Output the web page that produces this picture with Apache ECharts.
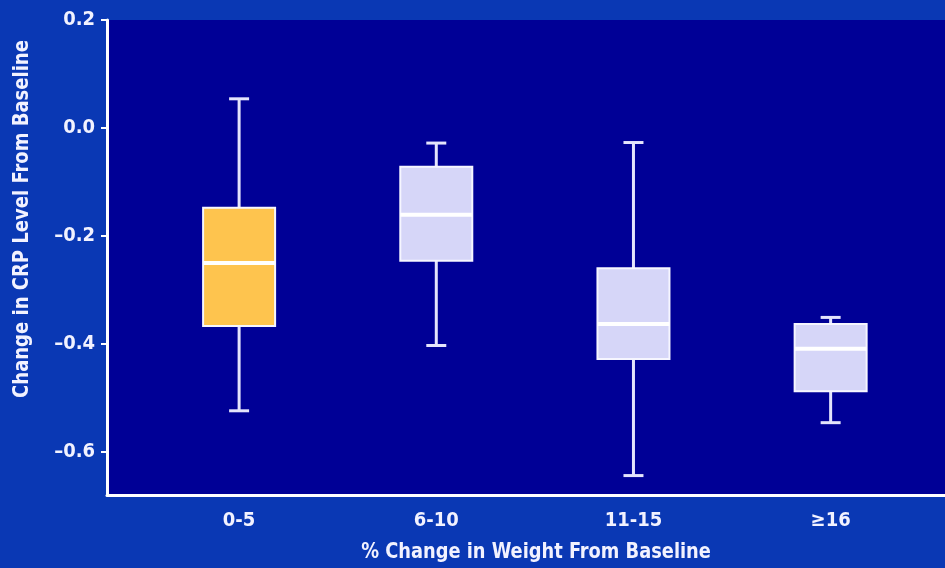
<!DOCTYPE html>
<html>
<head>
<meta charset="utf-8">
<script src="https://cdn.jsdelivr.net/npm/echarts@6/dist/echarts.min.js"></script>
<style>
html,body{margin:0;padding:0;background:#0a38b4;}
#c{width:945px;height:568px;}
</style>
</head>
<body>
<div id="c"></div>
<script>
// ---- data ----
const categories = ['0-5', '6-10', '11-15', '\u226516'];
const whiskerMin = [-0.524, -0.403, -0.644, -0.546];
const q1 = [-0.367, -0.246, -0.428, -0.488];
const median = [-0.250, -0.161, -0.363, -0.409];
const q3 = [-0.148, -0.072, -0.260, -0.363];
const whiskerMax = [0.054, -0.028, -0.027, -0.351];
const yTicks = [0.2, 0.0, -0.2, -0.4, -0.6];
const xTitle = '% Change in Weight From Baseline';
const yTitle = 'Change in CRP Level From Baseline';

// ---- styles ----
const boxColors = ['#fec44e', '#d6d6f8', '#d6d6f8', '#d6d6f8'];
const FONT = '"Liberation Sans Narrow", "DejaVu Sans Condensed", sans-serif';
const TEXT = '#f2f2ff';

const seriesData = categories.map((c, i) => [i + 1, whiskerMin[i], q1[i], median[i], q3[i], whiskerMax[i]]);

function renderItem(params, api) {
  const x = api.value(0);
  const pMin = api.coord([x, api.value(1)]);
  const pQ1 = api.coord([x, api.value(2)]);
  const pMed = api.coord([x, api.value(3)]);
  const pQ3 = api.coord([x, api.value(4)]);
  const pMax = api.coord([x, api.value(5)]);
  const hw = 36, cw = 10;
  const wc = '#e4e4fc';
  const cx = pMed[0];
  return {
    type: 'group',
    children: [
      {type: 'line', shape: {x1: cx, y1: pMax[1], x2: cx, y2: pMin[1]}, style: {stroke: wc, lineWidth: 3}},
      {type: 'line', shape: {x1: cx - cw, y1: pMax[1], x2: cx + cw, y2: pMax[1]}, style: {stroke: wc, lineWidth: 3}},
      {type: 'line', shape: {x1: cx - cw, y1: pMin[1], x2: cx + cw, y2: pMin[1]}, style: {stroke: wc, lineWidth: 3}},
      {type: 'rect', shape: {x: cx - hw, y: pQ3[1], width: 2 * hw, height: pQ1[1] - pQ3[1]},
        style: {fill: boxColors[params.dataIndex], stroke: '#f6f6ff', lineWidth: 2}},
      {type: 'line', shape: {x1: cx - hw, y1: pMed[1], x2: cx + hw, y2: pMed[1]}, style: {stroke: '#ffffff', lineWidth: 4}}
    ]
  };
}

const chart = echarts.init(document.getElementById('c'), null, {renderer: 'canvas'});
chart.setOption({
  backgroundColor: '#0a38b4',
  animation: false,
  grid: {left: 107, right: 0, top: 20, bottom: 73, show: true, backgroundColor: '#000096', borderWidth: 0},
  xAxis: {
    type: 'value', min: 0.33, max: 4.58,
    splitLine: {show: false},
    axisLine: {show: true, onZero: false, lineStyle: {color: '#ffffff', width: 3}},
    axisTick: {show: false},
    axisLabel: {
      customValues: [1, 2, 3, 4],
      formatter: v => categories[Math.round(v) - 1],
      color: TEXT, fontFamily: FONT, fontWeight: 'bold', fontSize: 20, margin: 16
    }
  },
  yAxis: {
    type: 'value', min: -0.68, max: 0.2,
    splitLine: {show: false},
    axisLine: {show: true, onZero: false, lineStyle: {color: '#ffffff', width: 3}},
    axisTick: {show: true, customValues: yTicks, length: 6, lineStyle: {color: '#ffffff', width: 2}},
    axisLabel: {
      customValues: yTicks,
      formatter: v => (v < 0 ? '\u2013' : '') + Math.abs(v).toFixed(1),
      color: TEXT, fontFamily: FONT, fontWeight: 'bold', fontSize: 20, margin: 12
    }
  },
  series: [{
    type: 'custom',
    renderItem: renderItem,
    encode: {x: 0, y: [1, 2, 3, 4, 5]},
    data: seriesData,
    clip: false
  }],
  graphic: [
    {type: 'text', x: 536, y: 552, scaleX: 0.9, style: {text: xTitle, fill: TEXT, font: 'bold 22px ' + FONT, align: 'center', verticalAlign: 'middle'}},
    {type: 'text', x: 22, y: 219, scaleX: 0.91, rotation: Math.PI / 2, style: {text: yTitle, fill: TEXT, font: 'bold 22px ' + FONT, align: 'center', verticalAlign: 'middle'}}
  ]
});
</script>
</body>
</html>
